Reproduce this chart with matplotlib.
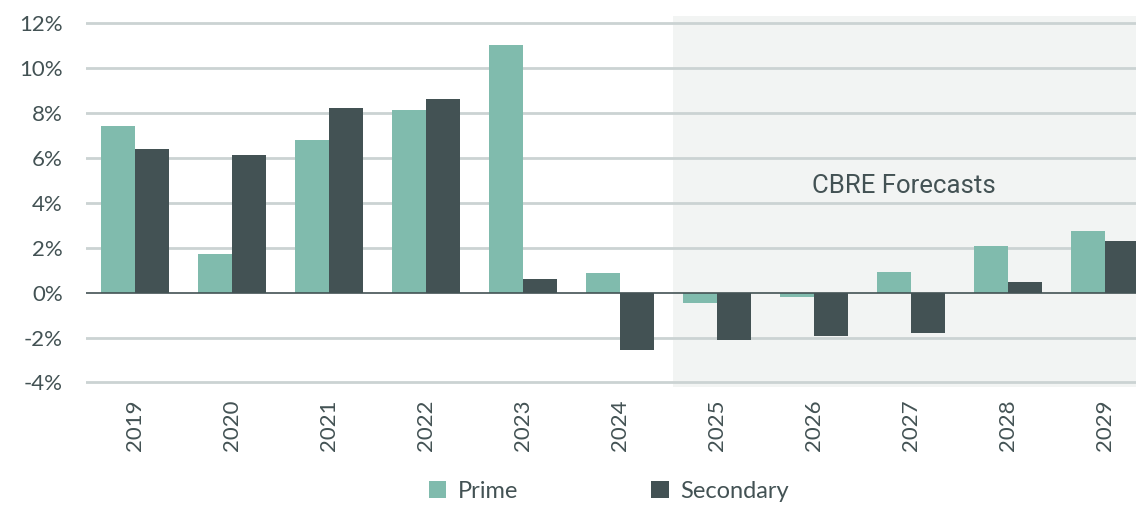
import numpy as np
import matplotlib.pyplot as plt

years = ['2019', '2020', '2021', '2022', '2023', '2024',
         '2025', '2026', '2027', '2028', '2029']
prime = [7.4, 1.7, 6.8, 8.1, 11.0, 0.85, -0.45, -0.2, 0.9, 2.05, 2.75]
secondary = [6.4, 6.1, 8.2, 8.6, 0.6, -2.55, -2.1, -1.95, -1.8, 0.45, 2.3]
yticks = [-4, -2, 0, 2, 4, 6, 8, 10, 12]

c_prime = '#80bbad'
c_sec = '#435254'
c_text = '#435254'

plt.rcParams['font.family'] = ['Lato', 'DejaVu Sans']

fig = plt.figure(figsize=(11.36, 5.05), dpi=100)
ax = fig.add_axes([0.0761, 0.2337, 0.9239, 0.7347])

x = np.arange(len(years))
w = 0.35
ax.axvspan(5.55, 11, color='#f2f4f3', zorder=0, lw=0)
ax.bar(x - w / 2, prime, w, color=c_prime, label='Prime', zorder=3)
ax.bar(x + w / 2, secondary, w, color=c_sec, label='Secondary', zorder=3)

for t in yticks:
    if t != 0:
        ax.axhline(t, color='#cbd3d3', lw=2, zorder=1)
ax.axhline(0, color=c_sec, lw=1.2, zorder=4)

ax.set_xlim(-0.5, 10.32)
ax.set_ylim(-4.2, 12.3)
ax.set_yticks(yticks)
ax.set_yticklabels([f'{t}%' for t in yticks])
ax.set_xticks(x)
ax.set_xticklabels(years, rotation=90)
ax.tick_params(axis='y', length=0, pad=17, labelsize=16, labelcolor=c_text)
ax.tick_params(axis='x', length=0, pad=9, labelsize=16, labelcolor=c_text)
for s in ax.spines.values():
    s.set_visible(False)

ax.text(7.93, 4.75, 'CBRE Forecasts', ha='center', va='center',
        fontsize=18.5, color=c_text, family=['Roboto', 'DejaVu Sans'])

fig.legend(loc='center', bbox_to_anchor=(0.536, 0.027), ncol=2, frameon=False,
           fontsize=17, labelcolor=c_text, columnspacing=5.6, handlelength=0.75,
           handleheight=0.75, handletextpad=0.5)

fig.savefig('out.png', dpi=100)
